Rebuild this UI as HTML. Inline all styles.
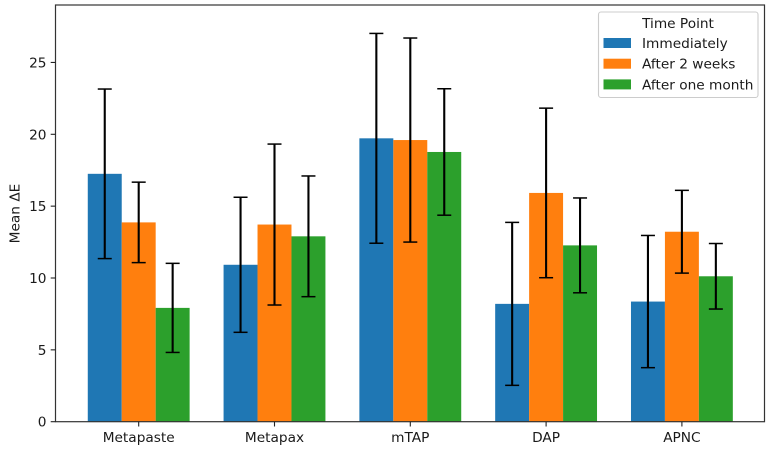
<!DOCTYPE html>
<html lang="en">
<head>
<meta charset="utf-8">
<title>Mean ΔE by material and time point</title>
<style>
html,body{margin:0;padding:0;background:#fff;width:770px;height:451px;overflow:hidden}
svg{display:block}
text{font-family:"DejaVu Sans",sans-serif;font-size:13.7px;fill:#1a1a1a}
</style>
</head>
<body>
<svg id="chart" width="770" height="451" viewBox="0 0 770 451" xmlns="http://www.w3.org/2000/svg"></svg>
<script>
const categories = ['Metapaste', 'Metapax', 'mTAP', 'DAP', 'APNC'];
const seriesNames = ['Immediately', 'After 2 weeks', 'After one month'];
const immediatelyMeans = [17.25, 10.92, 19.72, 8.2, 8.36];
const twoWeeksMeans = [13.87, 13.72, 19.6, 15.92, 13.22];
const oneMonthMeans = [7.92, 12.9, 18.77, 12.27, 10.12];
const immediatelyErrors = [5.9, 4.7, 7.3, 5.67, 4.6];
const twoWeeksErrors = [2.8, 5.6, 7.1, 5.9, 2.88];
const oneMonthErrors = [3.1, 4.2, 4.4, 3.3, 2.28];
const yTicks = [0, 5, 10, 15, 20, 25];

const seriesMeans = [immediatelyMeans, twoWeeksMeans, oneMonthMeans];
const seriesErrors = [immediatelyErrors, twoWeeksErrors, oneMonthErrors];
const colors = ['#1f77b4', '#ff7f0e', '#2ca02c'];
const svg = document.getElementById('chart');
const NS = 'http://www.w3.org/2000/svg';

const plot = {left: 55.5, right: 764.5, top: 5, bottom: 421.7};
const xScale = v => 138.7 + v * 135.8;
const yScale = v => plot.bottom - v * 14.37;
const barW = 33.95;

function make(tag, attrs, parent) {
  const el = document.createElementNS(NS, tag);
  for (const k in attrs) el.setAttribute(k, attrs[k]);
  (parent || svg).appendChild(el);
  return el;
}

// bars
seriesMeans.forEach((vals, s) => {
  vals.forEach((v, i) => {
    const cx = xScale(i) + (s - 1) * barW;
    const bar = make('rect', {x: cx - barW / 2, y: yScale(v), width: barW, height: plot.bottom - yScale(v), fill: colors[s]});
    
    
  });
});

// error bars
seriesMeans.forEach((vals, s) => {
  vals.forEach((v, i) => {
    const cx = xScale(i) + (s - 1) * barW;
    const e = seriesErrors[s][i];
    const g = make('g', {stroke: '#000', 'stroke-width': 2.1, fill: 'none'});
    
    
    make('line', {x1: cx, x2: cx, y1: yScale(v - e), y2: yScale(v + e)}, g);
    make('line', {x1: cx - 7, x2: cx + 7, y1: yScale(v - e), y2: yScale(v - e), 'stroke-width': 1.5}, g);
    make('line', {x1: cx - 7, x2: cx + 7, y1: yScale(v + e), y2: yScale(v + e), 'stroke-width': 1.5}, g);
  });
});

// frame
const frame = make('rect', {x: plot.left, y: plot.top, width: plot.right - plot.left, height: plot.bottom - plot.top, fill: 'none', stroke: '#333', 'stroke-width': 1.2});



// y ticks
yTicks.forEach(t => {
  const tick = make('line', {x1: plot.left - 4.8, x2: plot.left, y1: yScale(t), y2: yScale(t), stroke: '#222', 'stroke-width': 1.1});
  
  
  const label = make('text', {x: plot.left - 9, y: yScale(t) + 5, 'text-anchor': 'end'});
  
  
  label.textContent = t;
});

// x ticks
categories.forEach((c, i) => {
  const tick = make('line', {x1: xScale(i), x2: xScale(i), y1: plot.bottom, y2: plot.bottom + 4.8, stroke: '#222', 'stroke-width': 1.1});
  
  
  const label = make('text', {x: xScale(i), y: 442, 'text-anchor': 'middle'});
  
  
  label.textContent = c;
});

// y axis title
const yTitle = make('text', {transform: 'translate(19.5 213.5) rotate(-90)', 'text-anchor': 'middle'});


yTitle.textContent = 'Mean ΔE';

// legend
const legend = make('g', {});


const legendBox = make('rect', {x: 598.5, y: 12, width: 159.5, height: 85.5, rx: 2.5, fill: '#fff', 'fill-opacity': 0.8, stroke: '#ccc', 'stroke-width': 1.1}, legend);


const legendTitle = make('text', {x: 678, y: 28, 'text-anchor': 'middle'}, legend);


legendTitle.textContent = 'Time Point';
seriesNames.forEach((n, s) => {
  const rowY = 38 + s * 20.7;
  const swatch = make('rect', {x: 603.5, y: rowY, width: 27.5, height: 10, fill: colors[s]}, legend);
  
  
  const label = make('text', {x: 642, y: rowY + 10}, legend);
  
  
  label.textContent = n;
});
</script>
</body>
</html>
